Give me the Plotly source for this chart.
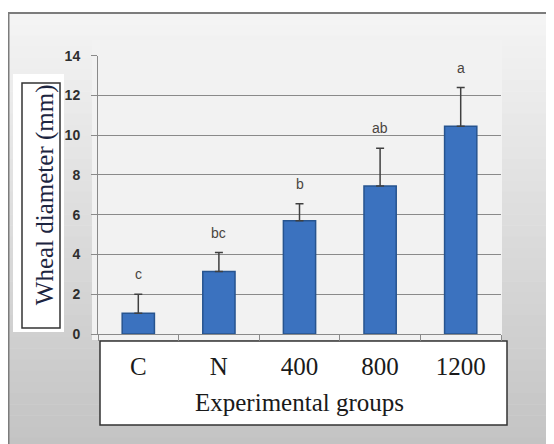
import plotly.graph_objects as go

groups = ["C", "N", "400", "800", "1200"]
means = [1.05, 3.15, 5.7, 7.45, 10.45]
errors = [0.95, 0.95, 0.85, 1.9, 1.95]
letters = ["c", "bc", "b", "ab", "a"]
y_ticks = [0, 2, 4, 6, 8, 10, 12, 14]

W, H = 554, 444
OFF = 8  # page offset of the figure (body margin)


def px(x):
    return (x - OFF) / W


def py(y):
    return 1 - (y - OFF) / H


def lerp_col(c1, c2, t):
    r = [round(a + (b - a) * t) for a, b in zip(c1, c2)]
    return "rgb(%d,%d,%d)" % tuple(r)


shapes = []
# gradient background inside frame
n = 40
top, bot = 13, 460
for i in range(n):
    y0 = top + (bot - top) * i / n
    y1 = top + (bot - top) * (i + 1) / n + 0.5
    shapes.append(dict(type="rect", xref="paper", yref="paper",
                       x0=px(8), x1=px(580), y0=py(y0), y1=py(y1),
                       fillcolor=lerp_col((244, 244, 244), (194, 194, 194), i / (n - 1)),
                       line=dict(width=0), layer="below"))
# frame
shapes.append(dict(type="rect", xref="paper", yref="paper", x0=px(8.5), x1=px(600), y0=py(13), y1=py(480),
                   fillcolor="rgba(0,0,0,0)", line=dict(color="#7c7c7c", width=2), layer="below"))
# plot area background
shapes.append(dict(type="rect", xref="paper", yref="paper", x0=px(92), x1=px(502), y0=py(40), y1=py(340),
                   fillcolor="#f2f2f2", line=dict(width=0), layer="below"))
# y title white panel and box
shapes.append(dict(type="rect", xref="paper", yref="paper", x0=px(13), x1=px(64), y0=py(74), y1=py(332),
                   fillcolor="#ffffff", line=dict(width=0), layer="below"))
shapes.append(dict(type="rect", xref="paper", yref="paper", x0=px(22), x1=px(60), y0=py(83), y1=py(328),
                   fillcolor="#ffffff", line=dict(color="#333333", width=1.5), layer="below"))
# x labels box
shapes.append(dict(type="rect", xref="paper", yref="paper", x0=px(100), x1=px(507), y0=py(341), y1=py(425),
                   fillcolor="#ffffff", line=dict(color="#333333", width=1.5), layer="below"))

fig = go.Figure()
fig.add_trace(go.Bar(
    x=groups, y=means, width=0.4,
    marker=dict(color="#3b72bf", line=dict(color="#27548f", width=1.5)),
    error_y=dict(type="data", symmetric=False, array=errors, arrayminus=[0] * len(errors),
                 color="#404040", thickness=1.5, width=4),
))

annotations = []
for i, (m, e, l) in enumerate(zip(means, errors, letters)):
    annotations.append(dict(x=i, y=m + e, xref="x", yref="y", text=l, showarrow=False,
                            yshift=20, font=dict(family="Liberation Sans Narrow, Arial Narrow, sans-serif",
                                                 size=14, color="#4a4540")))

fig.update_layout(
    width=W, height=H, autosize=False,
    margin=dict(l=0, r=0, t=0, b=0, pad=0, autoexpand=False),
    paper_bgcolor="#ffffff", plot_bgcolor="rgba(0,0,0,0)",
    showlegend=False,
    shapes=shapes, annotations=annotations,
    xaxis=dict(type="category", categoryorder="array", categoryarray=groups, range=[-0.5, 4.5],
               automargin=False,
               domain=[px(98), px(501)], tickson="boundaries", ticks="outside", ticklen=6,
               tickcolor="#8a8a8a", showline=True, linecolor="#8a8a8a", linewidth=1,
               showgrid=False, ticklabelstandoff=10, tickangle=0,
               tickfont=dict(family="Liberation Serif, Times New Roman, serif", size=25, color="#1a1a1a"),
               title=dict(text="Experimental groups", standoff=14,
                          font=dict(family="Liberation Serif, Times New Roman, serif", size=25, color="#1a1a1a"))),
    yaxis=dict(domain=[py(334), py(55.7)], range=[0, 14], tickvals=y_ticks, automargin=False,
               ticks="outside", ticklen=6, tickcolor="#8a8a8a",
               showline=True, linecolor="#8a8a8a", linewidth=1,
               showgrid=True, gridcolor="#8a8a8a", gridwidth=1, zeroline=False,
               ticklabelstandoff=8,
               tickfont=dict(family="Liberation Sans Narrow, Arial Narrow, sans-serif", size=14, color="#2e2e2e",
                             weight="bold"),
               title=dict(text="Wheal diameter (mm)", standoff=3,
                          font=dict(family="Liberation Serif, Times New Roman, serif", size=25, color="#1c2540"))),
)

fig.write_html("out.html")
